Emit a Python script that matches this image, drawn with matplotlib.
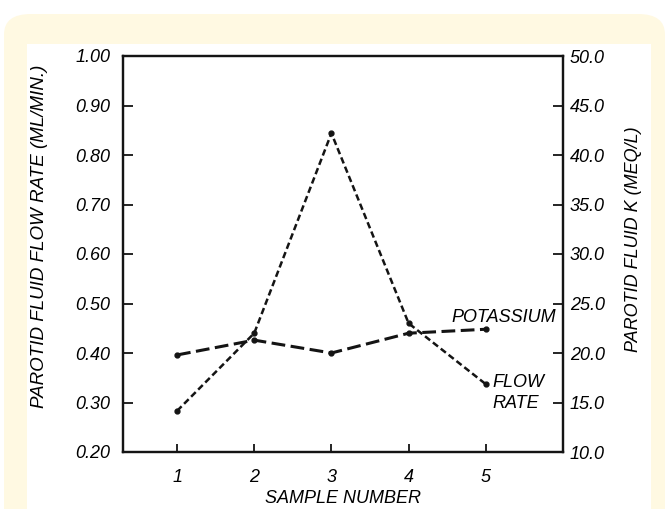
import matplotlib
matplotlib.use("Agg")
import matplotlib.pyplot as plt
from matplotlib.patches import FancyBboxPatch, Rectangle

samples = [1, 2, 3, 4, 5]
flow_rate = [0.283, 0.44, 0.844, 0.46, 0.337]
potassium = [19.8, 21.3, 20.0, 22.0, 22.4]
left_ticks = [0.20, 0.30, 0.40, 0.50, 0.60, 0.70, 0.80, 0.90, 1.00]
right_ticks = [10.0, 15.0, 20.0, 25.0, 30.0, 35.0, 40.0, 45.0, 50.0]

plt.rcParams['font.family'] = ['Liberation Sans', 'DejaVu Sans']
W, H = 669, 509
fig = plt.figure(figsize=(W/100, H/100), dpi=100)
fig.patch.set_facecolor('white')

# cream rounded background
fig.patches.append(FancyBboxPatch((4/W, -0.1), (W-8)/W, (H-14)/H + 0.1,
                                  boxstyle="round,pad=0,rounding_size=0.04",
                                  transform=fig.transFigure, facecolor='#fff9e2',
                                  edgecolor='none', zorder=-3))
fig.patches.append(Rectangle((27/W, 0), (651-27)/W, (H-44)/H,
                             transform=fig.transFigure, facecolor='white',
                             edgecolor='none', zorder=-2))

L, R, T, B = 123, 563, 56, 452
ax = fig.add_axes([L/W, 1-B/H, (R-L)/W, (B-T)/H])
ax.set_facecolor('none')
ax2 = ax.twinx()
ax.set_zorder(1)
ax2.set_zorder(2)

ax.plot(samples, flow_rate, color='#141414', lw=1.8, ls=(0, (2.6, 1.4)),
        marker='o', ms=3.5, zorder=3)
ax2.plot(samples, potassium, color='#141414', lw=2.2, ls=(0, (4.5, 1.8)),
         marker='o', ms=3.5, zorder=3)

ax.set_xlim(0.3, 6.0)
ax.set_ylim(0.20, 1.00)
ax2.set_ylim(10.0, 50.0)

FS = 13
ax.set_xticks(samples)
ax.set_xticklabels([str(s) for s in samples], fontsize=FS, style='italic')
ax.set_yticks(left_ticks)
ax.set_yticklabels([f"{t:.2f}" for t in left_ticks], fontsize=FS, style='italic')
ax2.set_yticks(right_ticks)
ax2.set_yticklabels([f"{t:.1f}" for t in right_ticks], fontsize=FS, style='italic')

ax.tick_params(axis='x', direction='in', length=6, width=1.2, pad=12)
ax.tick_params(axis='y', direction='in', length=7, width=1.2, pad=9)
ax2.tick_params(axis='y', direction='in', length=7, width=1.2, pad=5)
for a in (ax, ax2):
    for s in a.spines.values():
        s.set_linewidth(1.6)
        s.set_color('#141414')

ax.set_xlabel("SAMPLE NUMBER", fontsize=FS, style='italic', labelpad=3)
ax.set_ylabel("PAROTID FLUID FLOW RATE (ML/MIN.)", fontsize=13.5, style='italic')
ax2.set_ylabel("PAROTID FLUID K (MEQ/L)", fontsize=FS, style='italic')
for lab in (ax.yaxis.label, ax2.yaxis.label):
    lab.set_va('center')
    lab.set_ha('center')
    lab.set_rotation_mode('anchor')
ax.yaxis.set_label_coords((40 - L)/(R - L), (B - 236)/(B - T))
ax2.yaxis.set_label_coords((634 - L)/(R - L), (B - 239)/(B - T))

ax.text(5.91, 0.471, "POTASSIUM", fontsize=FS, style='italic', ha='right', va='center')
ax.text(5.08, 0.341, "FLOW", fontsize=FS, style='italic', ha='left', va='center')
ax.text(5.08, 0.297, "RATE", fontsize=FS, style='italic', ha='left', va='center')

fig.savefig("out.png", dpi=100)
